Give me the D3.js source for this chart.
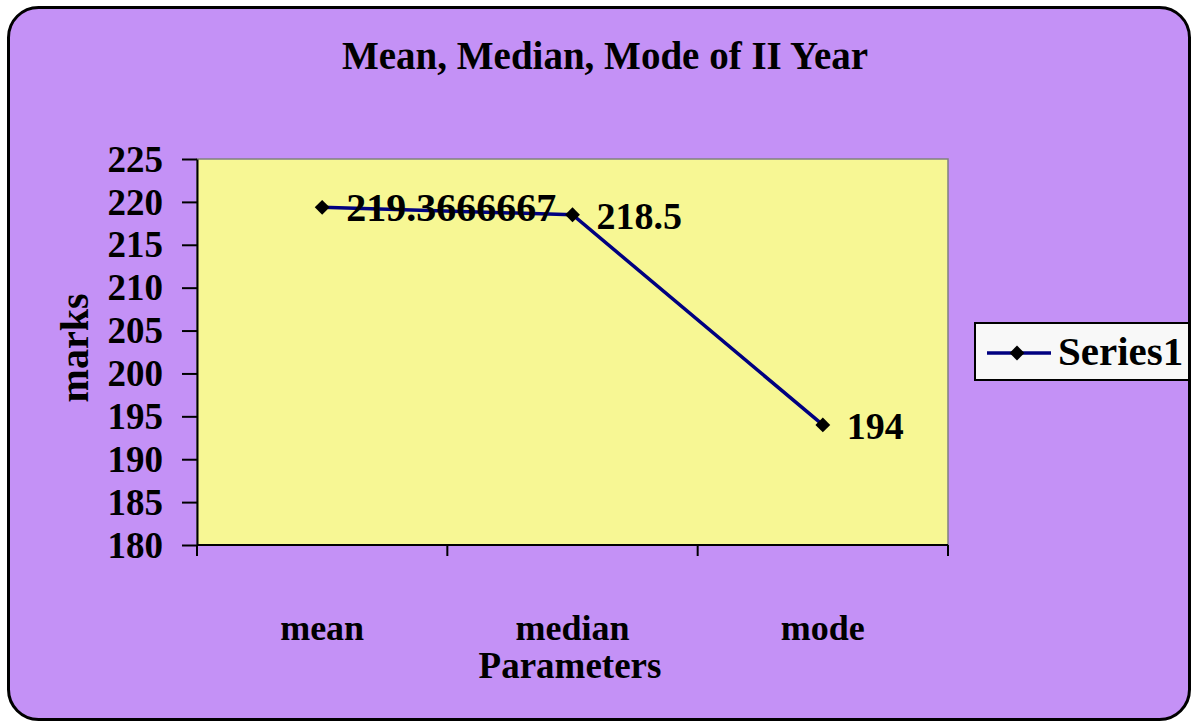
<!DOCTYPE html>
<html>
<head>
<meta charset="utf-8">
<script src="https://cdn.jsdelivr.net/npm/d3@7"></script>
<style>
  html, body { margin: 0; padding: 0; background: #ffffff; }
  svg { display: block; }
</style>
</head>
<body>
<div class="chart-container"></div>
<script>
// data
const categories = ['mean', 'median', 'mode'];
const values = [219.3666667, 218.5, 194];
const valueLabels = ['219.3666667', '218.5', '194'];
const yTicks = [180, 185, 190, 195, 200, 205, 210, 215, 220, 225];
const seriesName = 'Series1';

const width = 1192;
const height = 723;
const font = "'Liberation Serif', 'Times New Roman', serif";

// plot area
const plot = { left: 197, right: 948, top: 159, bottom: 545 };

const svg = d3.select('.chart-container')
  .append('svg')
  .attr('width', width)
  .attr('height', height)
  .attr('font-family', font)
  .attr('font-weight', 'bold');

// chart background (rounded frame)
svg.append('rect')
  .attr('x', 8.5)
  .attr('y', 7.5)
  .attr('width', 1181)
  .attr('height', 712)
  .attr('rx', 30)
  .attr('fill', '#c491f6')
  .attr('stroke', '#000')
  .attr('stroke-width', 3);

const x = d3.scaleBand()
  .domain(categories)
  .range([plot.left, plot.right]);

const y = d3.scaleLinear()
  .domain([180, 225])
  .range([plot.bottom, plot.top]);

// plot area fill
svg.append('rect')
  .attr('x', plot.left)
  .attr('y', plot.top)
  .attr('width', plot.right - plot.left)
  .attr('height', plot.bottom - plot.top)
  .attr('fill', '#f7f794')
  .attr('stroke', '#808080')
  .attr('stroke-width', 1.5);

// title
svg.append('text')
  .attr('x', 605)
  .attr('y', 69)
  .attr('text-anchor', 'middle')
  .attr('font-size', '39px')
  .text('Mean, Median, Mode of II Year');

// y axis
const yAxis = svg.append('g')
  .attr('transform', `translate(${plot.left},0)`)
  .call(d3.axisLeft(y).tickValues(yTicks).tickSize(15).tickPadding(19).tickSizeOuter(0));
yAxis.select('.domain').attr('stroke', '#000').attr('stroke-width', 2);
yAxis.selectAll('.tick line').attr('stroke', '#000').attr('stroke-width', 2);
yAxis.selectAll('.tick text')
  .attr('fill', '#000')
  .attr('font-family', font)
  .attr('font-size', '37px')
  .attr('dy', '0.33em');

// x axis: ticks sit on the category boundaries
const bounds = categories.map(c => x(c)).concat([plot.right]);
const xAxis = svg.append('g')
  .attr('transform', `translate(0,${plot.bottom})`);
xAxis.append('line')
  .attr('x1', plot.left)
  .attr('x2', plot.right)
  .attr('stroke', '#000')
  .attr('stroke-width', 2);
xAxis.selectAll('line.tk')
  .data(bounds)
  .join('line')
    .attr('class', 'tk')
    .attr('x1', d => d)
    .attr('x2', d => d)
    .attr('y1', 0)
    .attr('y2', 11)
    .attr('stroke', '#000')
    .attr('stroke-width', 2);
xAxis.selectAll('text')
  .data(categories)
  .join('text')
    .attr('x', d => x(d) + x.bandwidth() / 2)
    .attr('y', 95)
    .attr('text-anchor', 'middle')
    .attr('font-size', '36px')
    .text(d => d);

// axis titles
svg.append('text')
  .attr('x', 570)
  .attr('y', 678)
  .attr('text-anchor', 'middle')
  .attr('font-size', '37px')
  .text('Parameters');

svg.append('text')
  .attr('transform', 'translate(88,348) rotate(-90)')
  .attr('text-anchor', 'middle')
  .attr('font-size', '40px')
  .text('marks');

// series line
const pts = categories.map((c, i) => ({ c, v: values[i], label: valueLabels[i] }));
const line = d3.line()
  .x(d => x(d.c) + x.bandwidth() / 2)
  .y(d => y(d.v));

svg.append('path')
  .datum(pts)
  .attr('d', line)
  .attr('fill', 'none')
  .attr('stroke', '#000080')
  .attr('stroke-width', 3.5);

const diamond = d3.symbol().type(d3.symbolDiamond2).size(140);

svg.selectAll('path.marker')
  .data(pts)
  .join('path')
    .attr('class', 'marker')
    .attr('transform', d => `translate(${x(d.c) + x.bandwidth() / 2},${y(d.v)})`)
    .attr('d', diamond)
    .attr('fill', '#000');

// data labels
svg.selectAll('text.lbl')
  .data(pts)
  .join('text')
    .attr('class', 'lbl')
    .attr('x', d => x(d.c) + x.bandwidth() / 2 + 24)
    .attr('y', d => y(d.v) + 14)
    .attr('font-size', d => d.label.length > 6 ? '40px' : '38px')
    .text(d => d.label);

// legend
const legend = svg.append('g').attr('transform', 'translate(975,323)');
legend.append('rect')
  .attr('width', 214)
  .attr('height', 57)
  .attr('fill', '#f8f8f8')
  .attr('stroke', '#000')
  .attr('stroke-width', 2);
legend.append('line')
  .attr('x1', 12)
  .attr('x2', 76)
  .attr('y1', 30)
  .attr('y2', 30)
  .attr('stroke', '#000080')
  .attr('stroke-width', 3.5);
legend.append('path')
  .attr('transform', 'translate(42,30)')
  .attr('d', diamond)
  .attr('fill', '#000');
legend.append('text')
  .attr('x', 83)
  .attr('y', 42)
  .attr('font-size', '41px')
  .text(seriesName);
</script>
</body>
</html>
